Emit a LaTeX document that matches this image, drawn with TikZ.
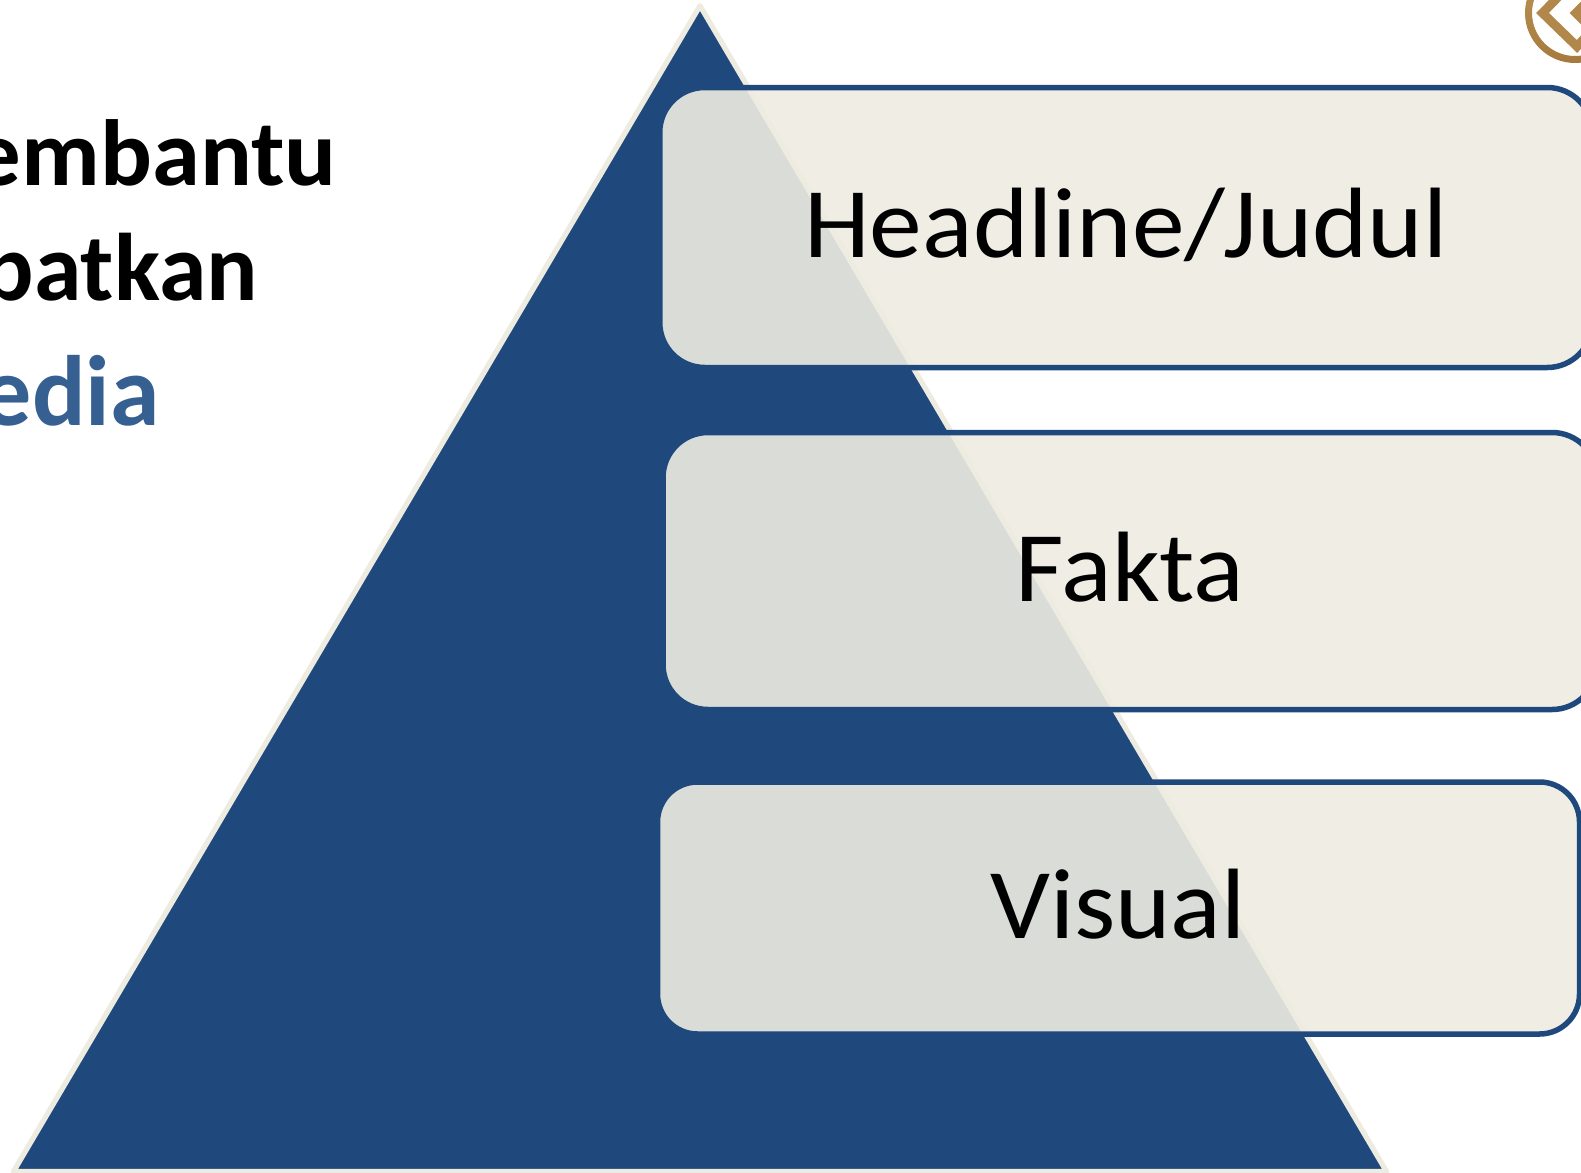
\documentclass[tikz,border=0pt]{standalone}
\usepackage{fontspec}
\setmainfont{Carlito}
\newfontfamily\lblfont[FakeStretch=1.055]{Carlito}
\newfontfamily\sidefont[FakeStretch=1.03,BoldFont=Carlito Bold]{Carlito}
\definecolor{pyrblue}{HTML}{1F497D}
\definecolor{pyrcream}{HTML}{EEECE1}
\definecolor{midblue}{HTML}{376092}
\definecolor{goldtop}{HTML}{BB9656}
\definecolor{goldbot}{HTML}{A67A3E}
\definecolor{goldmid}{HTML}{B1884A}
\tikzset{
  pyramid/.style={fill=pyrblue,draw=pyrcream,line width=5.3pt,line join=round},
  boxbase/.style={rectangle,draw=pyrblue,fill=pyrcream,fill opacity=0.9,draw opacity=1,line width=5.5pt,inner sep=0pt,outer sep=0pt},
  boxlabel/.style={anchor=base,inner sep=0pt,font=\lblfont\fontsize{100}{100}\selectfont,text=black},
  sidetext/.style={anchor=base east,inner sep=0pt,text=black},
  chevron/.style={draw=goldmid,line width=9pt,miter limit=10}
}
\begin{document}
\begin{tikzpicture}[x=1pt,y=-1pt]
\useasboundingbox (0,0) rectangle (1581,1172);
\clip (0,0) rectangle (1581,1172);
% emblem
\path[even odd rule,top color=goldtop,bottom color=goldbot] (1575,13) circle[radius=50] (1575,13) circle[radius=43];
\draw[chevron] (1592,30) -- (1577,46.5) -- (1542.5,13) -- (1560,-5);
\draw[chevron] (1592,29) -- (1576,13) -- (1592,-3);
% pyramid
\draw[pyramid] (700,5.7) -- (1386.6,1171.6) -- (13.4,1171.6) -- cycle;
% boxes
\node[boxbase,rounded corners=45pt,minimum width=932.5pt,minimum height=280pt] (box1) at (1126,227.5) {};
\node[boxbase,rounded corners=45pt,minimum width=934pt,minimum height=277pt] (box2) at (1130,571) {};
\node[boxbase,rounded corners=40pt,minimum width=922pt,minimum height=252pt] (box3) at (1118.5,908) {};
% labels
\node[boxlabel] (lab1) at (1126,257) {Headline/Judul};
\node[boxlabel] (lab2) at (1130,601) {Fakta};
\node[boxlabel] (lab3) at (1118,938) {Visual};
% side text
\node[sidetext,font=\sidefont\bfseries\fontsize{94}{94}\selectfont] (side1) at (337,185) {embantu};
\node[sidetext,font=\bfseries\fontsize{96}{96}\selectfont] (side2) at (258,300) {patkan};
\node[sidetext,font=\bfseries\fontsize{100}{100}\selectfont,text=midblue] (side3) at (160,425) {edia};
\end{tikzpicture}
\end{document}
